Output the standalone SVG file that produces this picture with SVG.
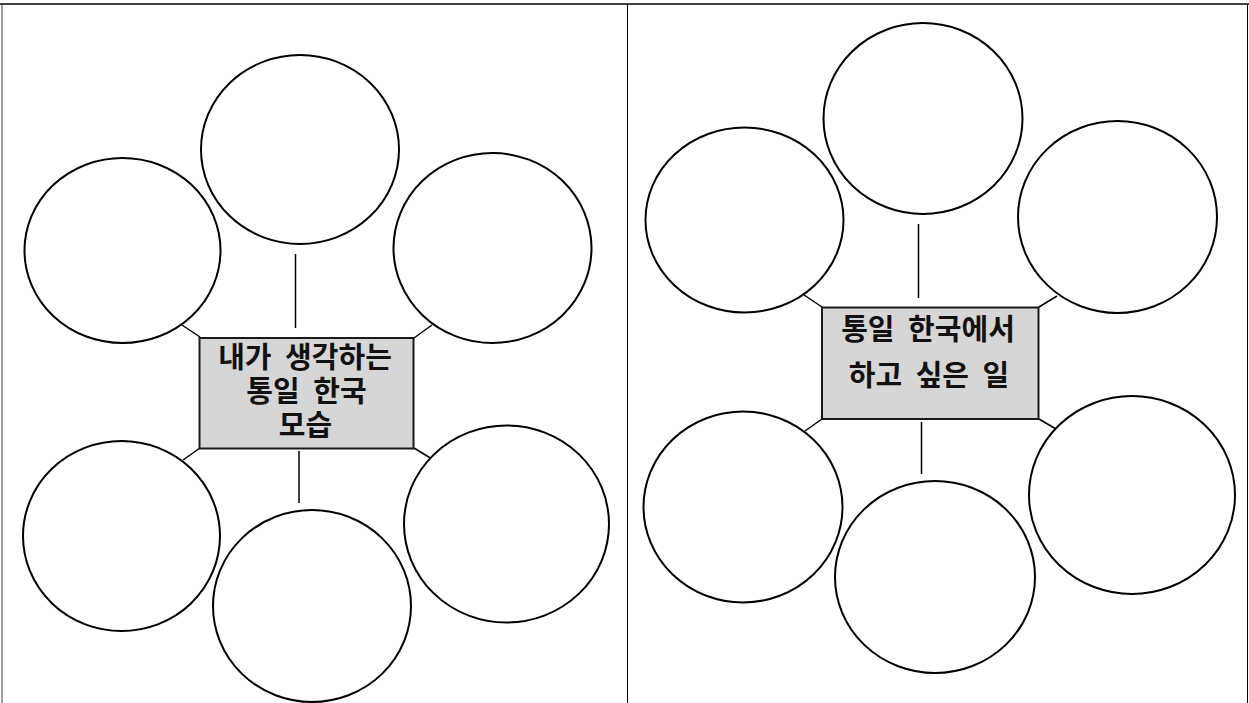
<svg xmlns="http://www.w3.org/2000/svg" width="1249" height="703" viewBox="0 0 1249 703">
<style>
.bubble{fill:#ffffff;stroke:#000000;stroke-width:2}
.box{fill:#d6d6d6;stroke:#1a1a1a;stroke-width:2}
.link{stroke:#000000;stroke-width:1.5;fill:none}
.frame{stroke:#000000;stroke-width:1;fill:none}
.label{font-family:"Noto Sans CJK KR","Noto Sans",sans-serif;font-size:29px;font-weight:700;fill:#111111;text-anchor:middle;word-spacing:7px}
</style>
<rect width="1249" height="703" fill="#ffffff"/>
<g id="frame">
<line class="frame" x1="0" y1="4" x2="1249" y2="4" style="stroke-width:1.6"/>
<line class="frame" x1="2" y1="4" x2="2" y2="703" style="stroke:#444"/>
<line class="frame" x1="627.5" y1="4" x2="627.5" y2="703"/>
<line class="frame" x1="1247.5" y1="4" x2="1247.5" y2="703"/>
</g>
<g id="connectors">
<line class="link" x1="295.5" y1="254" x2="295.5" y2="328"/>
<line class="link" x1="182" y1="325" x2="200" y2="337"/>
<line class="link" x1="414" y1="338" x2="432" y2="325"/>
<line class="link" x1="183" y1="460" x2="200" y2="448"/>
<line class="link" x1="414" y1="448" x2="432" y2="459"/>
<line class="link" x1="299" y1="451" x2="299" y2="503"/>
<line class="link" x1="918.5" y1="224" x2="918.5" y2="298"/>
<line class="link" x1="804" y1="295" x2="822" y2="307"/>
<line class="link" x1="1039" y1="307" x2="1057" y2="296"/>
<line class="link" x1="805" y1="431" x2="822" y2="419"/>
<line class="link" x1="1039" y1="419" x2="1056" y2="429"/>
<line class="link" x1="921.5" y1="422" x2="921.5" y2="474"/>
</g>
<g id="left-top"><ellipse class="bubble" cx="300" cy="149.5" rx="99" ry="94.5"/></g>
<g id="left-upper-left"><ellipse class="bubble" cx="122.5" cy="250.5" rx="98" ry="92.5"/></g>
<g id="left-upper-right"><ellipse class="bubble" cx="492.5" cy="248" rx="99" ry="95"/></g>
<g id="left-lower-left"><ellipse class="bubble" cx="121.5" cy="536" rx="98.5" ry="95"/></g>
<g id="left-bottom"><ellipse class="bubble" cx="312" cy="606" rx="99" ry="96"/></g>
<g id="left-lower-right"><ellipse class="bubble" cx="506.5" cy="524" rx="102.5" ry="98.5"/></g>
<g id="left-center">
<rect class="box" x="199.5" y="338" width="214" height="110.5"/>
<text class="label" x="305" y="368">내가 생각하는</text>
<text class="label" x="306.5" y="402">통일 한국</text>
<text class="label" x="305.5" y="436">모습</text>
</g>
<g id="right-top"><ellipse class="bubble" cx="923" cy="118.5" rx="99.5" ry="95.5"/></g>
<g id="right-upper-left"><ellipse class="bubble" cx="744.5" cy="220" rx="99" ry="92.5"/></g>
<g id="right-upper-right"><ellipse class="bubble" cx="1117.5" cy="217" rx="99.5" ry="96"/></g>
<g id="right-lower-left"><ellipse class="bubble" cx="743" cy="507" rx="99.5" ry="95.5"/></g>
<g id="right-bottom"><ellipse class="bubble" cx="935" cy="577" rx="100" ry="96"/></g>
<g id="right-lower-right"><ellipse class="bubble" cx="1132" cy="495" rx="103" ry="99"/></g>
<g id="right-center">
<rect class="box" x="822" y="307.5" width="216.5" height="111.5"/>
<text class="label" x="928" y="340">통일 한국에서</text>
<text class="label" x="929" y="386">하고 싶은 일</text>
</g>
</svg>
